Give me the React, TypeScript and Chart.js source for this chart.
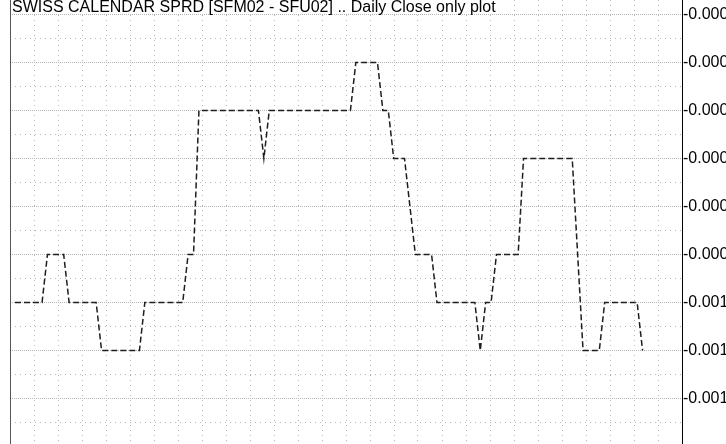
import React, { useEffect, useRef } from "react";
import { Chart, registerables } from "chart.js";

Chart.register(...registerables);

const TITLE = "SWISS CALENDAR SPRD [SFM02 - SFU02] .. Daily Close only plot";

// Daily closes (spread), one per trading day
const closes: number[] = [
  -0.0010, -0.0010, -0.0010, -0.0010, -0.0010, -0.0010,
  -0.0009, -0.0009, -0.0009, -0.0009,
  -0.0010, -0.0010, -0.0010, -0.0010, -0.0010, -0.0010,
  -0.0011, -0.0011, -0.0011, -0.0011, -0.0011, -0.0011, -0.0011, -0.0011,
  -0.0010, -0.0010, -0.0010, -0.0010, -0.0010, -0.0010, -0.0010, -0.0010,
  -0.0009, -0.0009,
  -0.0006, -0.0006, -0.0006, -0.0006, -0.0006, -0.0006, -0.0006, -0.0006, -0.0006, -0.0006, -0.0006, -0.0006,
  -0.0007,
  -0.0006, -0.0006, -0.0006, -0.0006, -0.0006, -0.0006, -0.0006, -0.0006,
  -0.0006, -0.0006, -0.0006, -0.0006, -0.0006, -0.0006, -0.0006, -0.0006,
  -0.0005, -0.0005, -0.0005, -0.0005, -0.0005,
  -0.0006, -0.0006,
  -0.0007, -0.0007, -0.0007,
  -0.0008,
  -0.0009, -0.0009, -0.0009, -0.0009,
  -0.0010, -0.0010, -0.0010, -0.0010, -0.0010, -0.0010, -0.0010, -0.0010,
  -0.0011,
  -0.0010, -0.0010,
  -0.0009, -0.0009, -0.0009, -0.0009, -0.0009,
  -0.0007, -0.0007, -0.0007, -0.0007, -0.0007, -0.0007, -0.0007, -0.0007, -0.0007, -0.0007,
  -0.0009,
  -0.0011, -0.0011, -0.0011, -0.0011,
  -0.0010, -0.0010, -0.0010, -0.0010, -0.0010, -0.0010, -0.0010,
  -0.0011,
];

// Labelled (major) y ticks and unlabelled (minor) y grid lines
const yMajorTicks: number[] = [-0.0004, -0.0005, -0.0006, -0.0007, -0.0008, -0.0009, -0.0010, -0.0011, -0.0012];
const yMinorTicks: number[] = [-0.00045, -0.00055, -0.00065, -0.00075, -0.00085, -0.00095, -0.00105, -0.00115, -0.00125];

const FONT = '"Liberation Sans", Arial, sans-serif';
const Y_MIN = -0.0012947917;
const Y_MAX = -0.0003697917;

const noPad = (s: any) => {
  s.paddingTop = 0;
  s.paddingBottom = 0;
  s.paddingLeft = 0;
  s.paddingRight = 0;
};

const titlePlugin = {
  id: "insideTitle",
  beforeDatasetsDraw(chart: any) {
    const { ctx, chartArea } = chart;
    ctx.save();
    ctx.font = `16px ${FONT}`;
    const w = ctx.measureText(TITLE).width;
    ctx.fillStyle = "#ffffff";
    ctx.fillRect(chartArea.left + 1, 0, w + 4, 14);
    ctx.fillStyle = "#000000";
    ctx.textBaseline = "alphabetic";
    ctx.textAlign = "left";
    ctx.fillText(TITLE, chartArea.left + 2, 11.5);
    ctx.restore();
  },
};

export default function App() {
  const ref = useRef<HTMLCanvasElement | null>(null);

  useEffect(() => {
    if (!ref.current) return;
    const chart = new Chart(ref.current, {
      type: "line",
      data: {
        datasets: [
          {
            data: closes.map((v, i) => ({ x: i, y: v })),
            borderColor: "#1e1e1e",
            borderWidth: 1.5,
            borderDash: [6, 3],
            pointRadius: 0,
            tension: 0,
            fill: false,
          },
        ],
      },
      options: {
        animation: false,
        responsive: false,
        devicePixelRatio: 1,
        layout: { padding: 0 },
        plugins: { legend: { display: false }, tooltip: { enabled: false }, title: { display: false } },
        scales: {
          x: {
            type: "linear",
            min: -0.924,
            max: 123.29,
            display: false,
          },
          xg: {
            type: "linear",
            position: "bottom",
            min: -24,
            max: 648,
            ticks: { display: false, stepSize: 24, includeBounds: false },
            grid: { color: "#b4b4b4", lineWidth: 1, drawTicks: false },
            border: { display: false, dash: [1, 4] },
            afterFit: (s: any) => { s.height = 0; noPad(s); },
          },
          yl: {
            type: "linear",
            position: "left",
            min: Y_MIN,
            max: Y_MAX,
            ticks: { display: false },
            grid: { display: false, drawTicks: false },
            border: { display: true, color: "#555555", width: 1 },
            afterFit: (s: any) => { s.width = 10; noPad(s); },
          },
          ym: {
            type: "linear",
            position: "right",
            min: Y_MIN,
            max: Y_MAX,
            afterBuildTicks: (s: any) => { s.ticks = yMinorTicks.map((v) => ({ value: v })); },
            ticks: { display: false },
            grid: { color: "#b4b4b4", lineWidth: 1, drawTicks: false },
            border: { display: false, dash: [1, 4] },
            afterFit: (s: any) => { s.width = 0; noPad(s); },
          },
          y: {
            type: "linear",
            position: "right",
            min: Y_MIN,
            max: Y_MAX,
            afterBuildTicks: (s: any) => { s.ticks = yMajorTicks.map((v) => ({ value: v })); },
            ticks: {
              color: "#000000",
              padding: 1,
              font: { family: FONT, size: 16 },
              callback: (v: any) => Number(v).toFixed(4),
            },
            grid: { color: "#b4b4b4", lineWidth: 1, drawTicks: false },
            border: { display: true, color: "#000000", width: 1, dash: [1, 1] },
            afterFit: (s: any) => { s.width = 44; noPad(s); },
          },
        },
      },
      plugins: [titlePlugin],
    });
    return () => chart.destroy();
  }, []);

  return (
    <div style={{ position: "fixed", left: 0, top: 0, width: 726, height: 444, background: "#fff" }}>
      <canvas ref={ref} width={726} height={444} />
    </div>
  );
}
